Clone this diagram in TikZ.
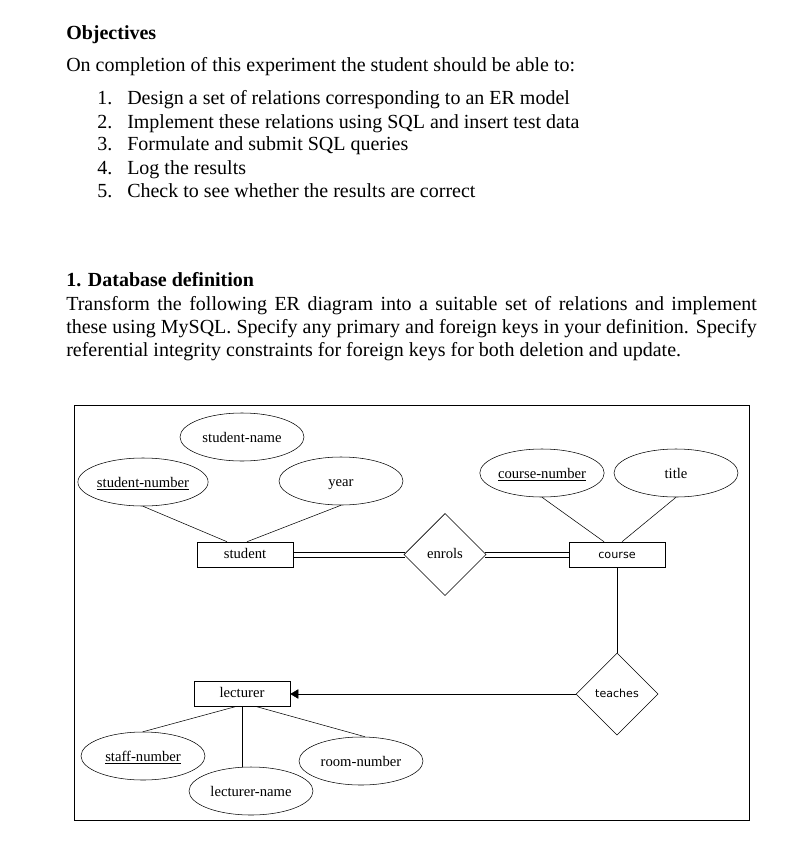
\documentclass[tikz,border=0pt]{standalone}
\usepackage{fontspec}
\setmainfont{Liberation Serif}
\newfontfamily\labelsans{DejaVu Sans}
\usetikzlibrary{shapes.geometric, arrows.meta, calc}

\begin{document}
\begin{tikzpicture}[
  x=0.75pt, y=-0.75pt,
  heading/.style={anchor=base west, inner sep=0pt, font=\fontsize{15}{17.25}\selectfont\bfseries},
  bodytext/.style={anchor=base west, inner sep=0pt, font=\fontsize{15}{17.25}\selectfont},
  attr/.style={ellipse, draw=black, thin, minimum width=93pt, minimum height=36pt, inner sep=0pt, text height=2ex, text depth=.25ex, font=\fontsize{11}{13}\selectfont},
  entity/.style={rectangle, draw=black, thin, minimum width=72pt, minimum height=18.75pt, inner sep=0pt, text height=1.5ex, text depth=.25ex, font=\fontsize{11}{13}\selectfont},
  relation/.style={diamond, draw=black, thin, minimum width=61.5pt, minimum height=61.5pt, inner sep=0pt, text height=1.5ex, text depth=.25ex, font=\fontsize{11}{13}\selectfont},
  link/.style={draw=black, thin},
  arrow/.style={draw=black, thin, -{Triangle[length=6pt, width=7pt]}}
]
\useasboundingbox (0,0) rectangle (803,845);

% Objectives
\node (objtitle) [heading] at (66,40) {Objectives};
\node (objintro) [bodytext] at (66,72) {On completion of this experiment the student should be able to:};
\foreach \n/\txt [count=\i] in {1/Design a set of relations corresponding to an ER model,
                                2/Implement these relations using SQL and insert test data,
                                3/Formulate and submit SQL queries,
                                4/Log the results,
                                5/Check to see whether the results are correct} {
  \node (num\n) [bodytext] at (97,{105+23*(\i-1)}) {\n.};
  \node (item\n) [bodytext] at (127,{105+23*(\i-1)}) {\txt};
}

% Database definition
\node (dbtitle) [heading] at (66,286) {1. Database definition};
\node (dbtext) [bodytext, text width=518pt, align=justify] at (66,310)
  {Transform the following ER diagram into a suitable set of relations and implement\linebreak
   these using MySQL. Specify any primary and foreign keys in your definition. Specify\linebreak
   referential integrity constraints for foreign keys for both deletion and update.};

% ER diagram frame
\draw [black, thin] (74,405) rectangle (749,820);

% Entities and relationships
\node (student) [entity] at (245,554.5) {student};
\node (course) [entity, font=\labelsans\fontsize{8.4}{10}\selectfont] at (617,554.5) {course};
\node (lecturer) [entity] at (242,694) {lecturer};
\node (enrols) [relation] at (445,554.5) {enrols};
\node (teaches) [relation, font=\labelsans\fontsize{8.3}{10}\selectfont] at (617,694) {teaches};

% Attributes
\node (sname) [attr] at (242,437) {student-name};
\node (snum) [attr] at (143,482) {\underline{student-number}};
\node (year) [attr] at (341,481) {year};
\node (cnum) [attr] at (542,473) {\underline{course-number}};
\node (ctitle) [attr] at (676,473) {title};
\node (staff) [attr] at (143,756) {\underline{staff-number}};
\node (lname) [attr] at (251,791) {lecturer-name};
\node (room) [attr] at (361,761) {room-number};

% Connectors
\draw [link] (snum.south) -- ($(student.north)+(-18,0)$);
\draw [link] ($(student.north)+(-8,0)$) -- ($(student.north)+(-8,0)$ |- sname.south);
\draw [link] (year.south) -- ($(student.north)+(2,0)$);
\draw [link] (cnum.south) -- ($(course.north)+(-13,0)$);
\draw [link] (ctitle.south) -- ($(course.north)+(5,0)$);
% total participation (double lines)
\foreach \dy in {-2.5,2.5} {
  \draw [link] ($(student.east)+(0,\dy)$) -- ($(enrols.west)+(1,\dy)$);
  \draw [link] ($(enrols.east)+(-1,\dy)$) -- ($(course.west)+(0,\dy)$);
}
\draw [link] (course.south) -- (teaches.north);
\draw [arrow] (teaches.west) -- (lecturer.east);
\draw [link] ($(lecturer.south)+(-7,0)$) -- (staff.north);
\draw [link] (lecturer.south) -- (lecturer.south |- lname.north);
\draw [link] ($(lecturer.south)+(15,0)$) -- ($(room.north)+(4,0)$);
\end{tikzpicture}
\end{document}
